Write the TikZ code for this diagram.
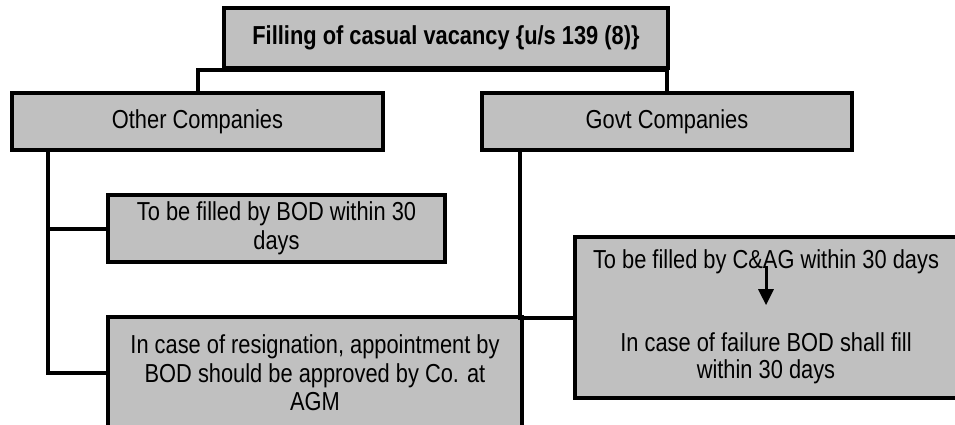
\documentclass[tikz,border=0pt]{standalone}
\usepackage{fontspec}
\setmainfont{Liberation Sans}[FakeStretch=0.84]
\usetikzlibrary{arrows.meta}
\definecolor{boxgray}{HTML}{C0C0C0}
\begin{document}
\begin{tikzpicture}[x=1pt,y=-1pt,
  box/.style={draw=black, fill=boxgray, line width=4pt, inner sep=0pt, align=center,
    font=\fontsize{26}{28.5}\selectfont},
  txt/.style={inner sep=0pt, align=center, font=\fontsize{26}{27}\selectfont},
  conn/.style={line width=4pt, draw=black},
  arr/.style={line width=3pt, -{Triangle[width=15pt,length=16pt]}}]
\clip (0,0) rectangle (955,425);
\fill[white] (0,0) rectangle (955,425);
% boxes
\node[box, font=\fontsize{26}{28.5}\selectfont\bfseries, minimum width=444pt, minimum height=60pt] (top) at (446,38) {Filling of casual vacancy \{u/s 139 (8)\}};
\node[box, minimum width=371pt, minimum height=57pt] (other) at (197.5,121.5) {Other Companies};
\node[box, minimum width=370pt, minimum height=57pt] (govt) at (667,121.5) {Govt Companies};
\node[box, minimum width=337pt, minimum height=67pt] (bod) at (276.5,228.5) {To be filled by BOD within 30\\days};
\node[box, minimum width=414pt, minimum height=112pt] (resign) at (315,373) {In case of resignation, appointment by\\BOD should be approved by Co. at\\AGM};
\node[box, minimum width=382pt, minimum height=161pt] (cag) at (766,317.5) {};
\node[txt] (cag1) at (766,262) {To be filled by C\&AG within 30 days};
\node[txt] (cag2) at (766,358) {In case of failure BOD shall fill\\within 30 days};
% connectors
\draw[conn] (other.north) |- (top.south) -| (govt.north);
\draw[conn] ([xshift=38pt]other.south west) |- (bod.west);
\draw[conn] ([xshift=38pt]other.south west) |- (resign.west);
\draw[conn] ([xshift=40pt]govt.south west) |- (cag.west);
\draw[arr] ([yshift=8pt]cag1.south) -- ([yshift=27pt]cag2.north);
\end{tikzpicture}
\end{document}
